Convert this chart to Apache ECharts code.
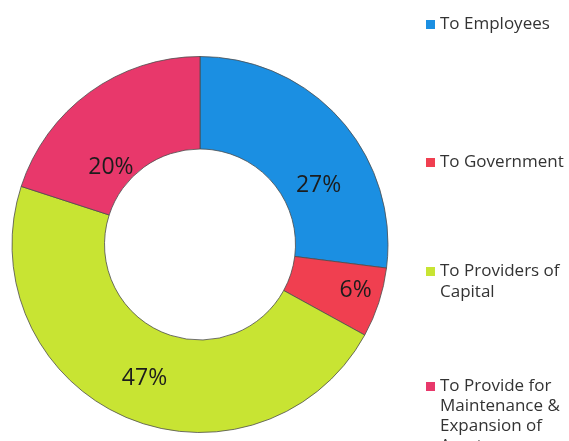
<!DOCTYPE html>
<html>
<head>
<meta charset="utf-8">
<script src="https://cdn.jsdelivr.net/npm/echarts@6/dist/echarts.min.js"></script>
<style>
  html, body { margin: 0; padding: 0; background: #ffffff; }
  #chart { width: 569px; height: 441px; }
</style>
</head>
<body>
<div id="chart"></div>
<script>
// Distribution of value added, in percent
const categories = [
  'To Employees',
  'To Government',
  'To Providers of Capital',
  'To Provide for Maintenance & Expansion of Assets'
];
const shares = [27, 6, 47, 20];

// Legend wording as it wraps beside the ring
const legendLines = [
  ['To Employees'],
  ['To Government'],
  ['To Providers of', 'Capital'],
  ['To Provide for', 'Maintenance &', 'Expansion of', 'Assets']
];

// Slice colours
const colors = ['#1b8fe2', '#f03f50', '#c8e433', '#e8386b'];

// Label nudges away from the ring's mid-radius, in px
const labelNudge = [[10, 37], [18, 1], [2, 1], [-4, 40]];

// Legend placement: first-line centre (px) and line spacing per entry
const legendFirstLine = [23, 161, 270, 385];
const legendLineHeight = [21, 21, 21, 20];

const chart = echarts.init(document.getElementById('chart'), null, { renderer: 'canvas' });

// Each legend entry keeps its marker beside the first line of its text:
// blank lines above balance the wrapped lines below.
const legends = categories.map((name, i) => {
  const lines = legendLines[i];
  const L = legendLineHeight[i];
  const pad = new Array(lines.length - 1).fill(' ');
  const blockLines = 2 * lines.length - 1;
  return {
    data: [name],
    orient: 'vertical',
    left: 426,
    top: legendFirstLine[i] - blockLines * L / 2 + 1.5,
    padding: 0,
    itemWidth: 9,
    itemHeight: 9,
    icon: 'rect',
    selectedMode: false,
    itemStyle: { borderWidth: 0 },
    formatter: () => pad.concat(lines).join('\n'),
    textStyle: {
      fontFamily: 'Open Sans',
      fontSize: 17,
      color: '#333333',
      lineHeight: L
    }
  };
});

chart.setOption({
  backgroundColor: '#ffffff',
  animation: false,
  color: colors,
  legend: legends,
  series: [{
    type: 'pie',
    center: [200, 244.5],
    radius: [95.5, 188],
    startAngle: 90,
    clockwise: true,
    avoidLabelOverlap: false,
    itemStyle: { borderColor: '#4d4d4d', borderWidth: 0.8 },
    label: {
      show: true,
      position: 'inside',
      formatter: '{c}%',
      fontFamily: 'Open Sans',
      fontSize: 23,
      color: '#1c1c1c'
    },
    labelLine: { show: false },
    emphasis: { disabled: true },
    data: categories.map((name, i) => ({
      name: name,
      value: shares[i],
      label: { offset: labelNudge[i] }
    }))
  }]
});
</script>
</body>
</html>
